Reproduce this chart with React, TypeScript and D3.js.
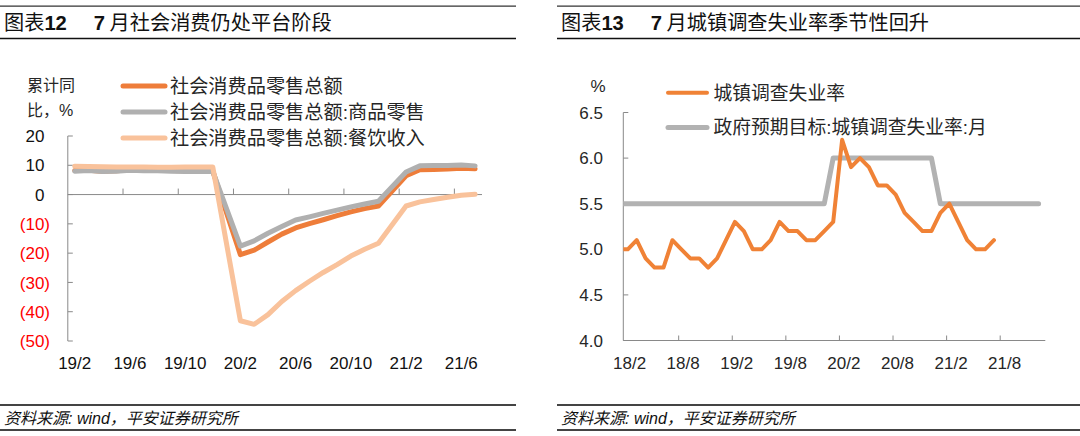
import React from 'react';
import * as d3 from 'd3';

// ---- left panel: 社会消费品零售 累计同比 ----
const retailCats = [
  '19/2', '19/3', '19/4', '19/5', '19/6', '19/7', '19/8', '19/9', '19/10', '19/11', '19/12',
  '20/1', '20/2', '20/3', '20/4', '20/5', '20/6', '20/7', '20/8', '20/9', '20/10', '20/11', '20/12',
  '21/1', '21/2', '21/3', '21/4', '21/5', '21/6', '21/7',
];
const retailTotal = [
  8.2, 8.3, 8.0, 8.1, 8.4, 8.3, 8.2, 8.2, 8.1, 8.0, 8.0,
  null, -20.5, -19.0, -16.2, -13.5, -11.4, -9.9, -8.6, -7.2, -5.9, -4.8, -3.9,
  null, 6.4, 8.5, 8.6, 8.7, 9.0, 8.8,
];
const retailGoods = [
  8.0, 8.2, 7.9, 8.0, 8.3, 8.1, 8.1, 8.0, 7.9, 7.9, 7.9,
  null, -17.6, -15.8, -13.2, -10.9, -8.7, -7.6, -6.4, -5.3, -4.2, -3.2, -2.3,
  null, 7.7, 9.8, 9.9, 9.9, 10.1, 9.8,
];
const retailCatering = [
  9.7, 9.6, 9.5, 9.4, 9.4, 9.4, 9.3, 9.3, 9.4, 9.4, 9.4,
  null, -43.1, -44.3, -41.0, -36.5, -32.8, -29.6, -26.6, -23.9, -21.0, -18.7, -16.6,
  null, -3.9, -2.5, -1.7, -0.9, -0.2, 0.1,
];
const retailNames = ['社会消费品零售总额', '社会消费品零售总额:商品零售', '社会消费品零售总额:餐饮收入'];
const retailYTicks = [20, 10, 0, -10, -20, -30, -40, -50];
const retailXLabels = ['19/2', '19/6', '19/10', '20/2', '20/6', '20/10', '21/2', '21/6'];

// ---- right panel: 城镇调查失业率 ----
const jobMonths = [
  '18/1', '18/2', '18/3', '18/4', '18/5', '18/6', '18/7', '18/8', '18/9', '18/10', '18/11', '18/12',
  '19/1', '19/2', '19/3', '19/4', '19/5', '19/6', '19/7', '19/8', '19/9', '19/10', '19/11', '19/12',
  '20/1', '20/2', '20/3', '20/4', '20/5', '20/6', '20/7', '20/8', '20/9', '20/10', '20/11', '20/12',
  '21/1', '21/2', '21/3', '21/4', '21/5', '21/6', '21/7', '21/8', '21/9', '21/10', '21/11', '21/12',
];
const unemployment = [
  5.0, 5.0, 5.1, 4.9, 4.8, 4.8, 5.1, 5.0, 4.9, 4.9, 4.8, 4.9,
  5.1, 5.3, 5.2, 5.0, 5.0, 5.1, 5.3, 5.2, 5.2, 5.1, 5.1, 5.2,
  5.3, 6.2, 5.9, 6.0, 5.9, 5.7, 5.7, 5.6, 5.4, 5.3, 5.2, 5.2,
  5.4, 5.5, 5.3, 5.1, 5.0, 5.0, 5.1,
];
const jobTarget = [
  5.5, 5.5, 5.5, 5.5, 5.5, 5.5, 5.5, 5.5, 5.5, 5.5, 5.5, 5.5,
  5.5, 5.5, 5.5, 5.5, 5.5, 5.5, 5.5, 5.5, 5.5, 5.5, 5.5, 5.5,
  6.0, 6.0, 6.0, 6.0, 6.0, 6.0, 6.0, 6.0, 6.0, 6.0, 6.0, 6.0,
  5.5, 5.5, 5.5, 5.5, 5.5, 5.5, 5.5, 5.5, 5.5, 5.5, 5.5, 5.5,
];
const jobNames = ['城镇调查失业率', '政府预期目标:城镇调查失业率:月'];
const jobYTicks = [6.5, 6.0, 5.5, 5.0, 4.5, 4.0];
const jobXLabels = ['18/2', '18/8', '19/2', '19/8', '20/2', '20/8', '21/2', '21/8'];

const FONT = '"Liberation Sans", Arial, "Noto Sans CJK SC", sans-serif';
const AXIS = '#898989';
const TEXT = '#262626';

const RetailChart: React.FC = () => {
  const x = d3.scaleBand<string>().domain(retailCats).range([67.8, 482]).padding(0);
  const cx = (c: string) => (x(c) ?? 0) + x.bandwidth() / 2;
  const y = d3.scaleLinear().domain([-50, 20]).range([341, 136]);
  const x0 = 67.8;

  const series = [
    { name: retailNames[0], values: retailTotal, color: '#EE7D3A' },
    { name: retailNames[1], values: retailGoods, color: '#B0B0B0' },
    { name: retailNames[2], values: retailCatering, color: '#F9C29B' },
  ];
  const line = d3
    .line<[string, number]>()
    .x((d) => cx(d[0]))
    .y((d) => y(d[1]));

  return (
    <g>
      {/* y axis */}
      <line x1={x0} x2={x0} y1={y(20)} y2={y(-50)} stroke={AXIS} />
      {retailYTicks.map((t) => (
        <g key={t}>
          <line x1={x0} x2={x0 + 5} y1={y(t)} y2={y(t)} stroke={AXIS} />
          <text
            x={t < 0 ? 50 : 44.5}
            y={y(t)}
            dy="0.36em"
            textAnchor="end"
            fontSize={17}
            fill={t < 0 ? '#FF0000' : '#111'}
          >
            {t < 0 ? `(${Math.abs(t)})` : t}
          </text>
        </g>
      ))}
      {/* x axis on zero line */}
      <line x1={x0} x2={482} y1={y(0)} y2={y(0)} stroke={AXIS} />
      {retailXLabels.map((c, i) => (
        <g key={c}>
          {i > 0 && <line x1={x(c)} x2={x(c)} y1={y(0)} y2={y(0) - 6} stroke={AXIS} />}
          <text x={cx(c)} y={369} textAnchor="middle" fontSize={17} fill="#111">
            {c}
          </text>
        </g>
      ))}
      {/* series */}
      {series.map((s) => {
        const pts = retailCats
          .map((c, i) => [c, s.values[i]] as [string, number | null])
          .filter((d) => d[1] !== null) as [string, number][];
        return (
          <path
            key={s.name}
            d={line(pts) ?? ''}
            fill="none"
            stroke={s.color}
            strokeWidth={5}
            strokeLinejoin="round"
            strokeLinecap="round"
          />
        );
      })}
      {/* unit label */}
      <text x={27} y={91} fontSize={16} fill={TEXT}>累计同</text>
      <text x={27} y={116} fontSize={16} fill={TEXT}>比，%</text>
      {/* legend */}
      {series.map((s, i) => (
        <g key={s.name} transform={`translate(0, ${86 + i * 26})`}>
          <line x1={123} x2={165} stroke={s.color} strokeWidth={5} strokeLinecap="round" />
          <text x={170} dy="0.36em" fontSize={19.2} fill={TEXT}>
            {s.name}
          </text>
        </g>
      ))}
    </g>
  );
};

const JobChart: React.FC = () => {
  const idx = (m: string) => jobMonths.indexOf(m);
  const x = d3.scaleLinear().domain([0.5, 47.75]).range([623.3, 1045.3]);
  const y = d3.scaleLinear().domain([4, 6.5]).range([340.5, 112.5]);
  const line = d3
    .line<number>()
    .x((_, i) => x(i))
    .y((d) => y(d));
  const [xa, xb] = x.range();

  return (
    <g>
      <defs>
        <clipPath id="jobClip">
          <rect x={xa} y={90} width={xb - xa} height={260} />
        </clipPath>
      </defs>
      {/* axes */}
      <line x1={xa} x2={xa} y1={y(6.5)} y2={y(4)} stroke={AXIS} />
      {jobYTicks.map((t) => (
        <g key={t}>
          <line x1={xa} x2={xa + 5} y1={y(t)} y2={y(t)} stroke={AXIS} />
          <text x={603} y={y(t)} dy="0.36em" textAnchor="end" fontSize={17} fill={TEXT}>
            {t.toFixed(1)}
          </text>
        </g>
      ))}
      <line x1={xa} x2={xb} y1={y(4)} y2={y(4)} stroke={AXIS} />
      {jobXLabels.map((m, i) => (
        <g key={m}>
          {i > 0 && (
            <line x1={x(idx(m) - 0.3)} x2={x(idx(m) - 0.3)} y1={y(4)} y2={y(4) - 5} stroke={AXIS} />
          )}
          <text x={x(idx(m) + 0.2)} y={369} textAnchor="middle" fontSize={17} fill={TEXT}>
            {m}
          </text>
        </g>
      ))}
      <g clipPath="url(#jobClip)">
        <path
          d={line(jobTarget) ?? ''}
          fill="none"
          stroke="#B2B2B2"
          strokeWidth={5}
          strokeLinejoin="round"
          strokeLinecap="round"
        />
        <path
          d={line(unemployment) ?? ''}
          fill="none"
          stroke="#F08236"
          strokeWidth={4}
          strokeLinejoin="round"
          strokeLinecap="round"
        />
      </g>
      <text x={590.5} y={91.5} fontSize={17} fill={TEXT}>%</text>
      {/* legend */}
      {[
        { name: jobNames[0], color: '#F08236', w: 4 },
        { name: jobNames[1], color: '#B2B2B2', w: 5 },
      ].map((s, i) => (
        <g key={s.name} transform={`translate(0, ${92.8 + i * 34.8})`}>
          <line x1={668} x2={707} stroke={s.color} strokeWidth={s.w} strokeLinecap="round" />
          <text x={713.5} dy="0.36em" fontSize={18.8} fill={TEXT}>
            {s.name}
          </text>
        </g>
      ))}
    </g>
  );
};

const Frame: React.FC<{ x0: number; x1: number; num: string; title: string }> = ({ x0, x1, num, title }) => (
  <g>
    <line x1={x0} x2={x1} y1={6.2} y2={6.2} stroke="#333" strokeWidth={1.3} />
    <line x1={x0} x2={x1} y1={38.5} y2={38.5} stroke="#111" strokeWidth={1.5} />
    <text x={x0 + 4} y={30} fontSize={20.2} fill="#111">
      <tspan>图表</tspan>
      <tspan fontWeight="bold">{num}</tspan>
      <tspan fontWeight="bold" dx={27}>7</tspan>
      <tspan dx={4.5}>{title}</tspan>
    </text>
    <line x1={x0} x2={x1} y1={405} y2={405} stroke="#444" strokeWidth={2} />
    <line x1={x0} x2={x1} y1={430} y2={430} stroke="#444" strokeWidth={2} />
    <text x={x0 + 4} y={423.5} fontSize={16} fontStyle="italic" fill="#111">
      资料来源: wind，平安证券研究所
    </text>
  </g>
);

const App: React.FC = () => (
  <svg
    width={1080}
    height={436}
    style={{ position: 'absolute', left: 0, top: 0, background: '#fff' }}
    fontFamily={FONT}
  >
    <Frame x0={0} x1={516} num="12" title="月社会消费仍处平台阶段" />
    <Frame x0={557} x1={1080} num="13" title="月城镇调查失业率季节性回升" />
    <RetailChart />
    <JobChart />
  </svg>
);

export default App;
